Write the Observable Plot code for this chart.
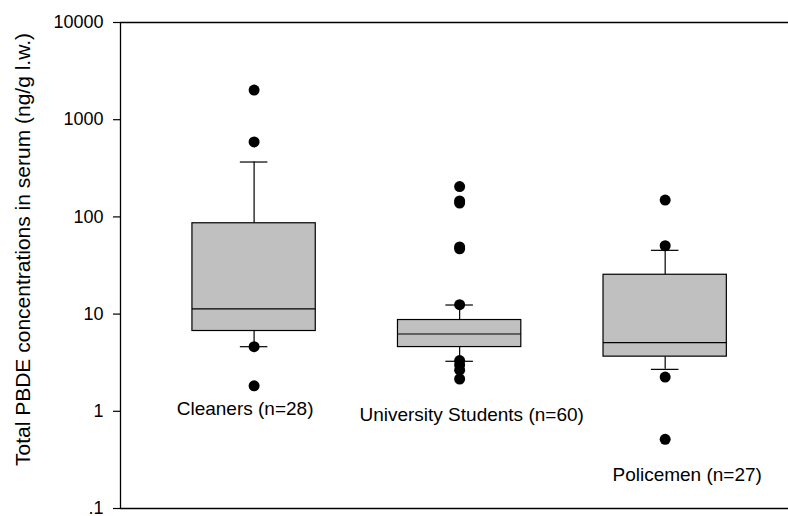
<!DOCTYPE html>
<html>
<head>
<meta charset="utf-8">
<script src="https://cdn.jsdelivr.net/npm/d3@7"></script>
<script src="https://cdn.jsdelivr.net/npm/@observablehq/plot@0.6"></script>
<style>
  html, body { margin: 0; padding: 0; background: #fff; }
  #chart { width: 788px; height: 516px; }
</style>
</head>
<body>
<div id="chart"></div>
<script>
// ---- data ----
const categories = ["Cleaners (n=28)", "University Students (n=60)", "Policemen (n=27)"];
const q1 = [6.7, 4.58, 3.65];
const medians = [11.3, 6.24, 5.08];
const q3 = [86, 8.69, 25.4];
const whiskerLow = [4.62, 3.27, 2.7];
const whiskerHigh = [367, 12.4, 45.3];
const outliers = [
  [2020, 590, 4.62, 1.83],
  [205, 146, 139, 49, 47, 12.5, 3.33, 3.0, 2.65, 2.15],
  [149, 50.5, 2.25, 0.515]
];
const yTicks = [0.1, 1, 10, 100, 1000, 10000];
const yTickLabels = [".1", "1", "10", "100", "1000", "10000"];
const yTitle = "Total PBDE concentrations in serum (ng/g l.w.)";

// ---- layout helpers ----
const labelLevel = [1.07, 0.916, 0.221];
const labelDx = [-9, 12, 22];
const font = "Liberation Sans, Arial, Helvetica, sans-serif";

const boxes = categories.map((c, i) => ({
  pos: i + 1, name: c, q1: q1[i], med: medians[i], q3: q3[i],
  lo: whiskerLow[i], hi: whiskerHigh[i], ly: labelLevel[i], dx: labelDx[i]
}));
const points = outliers.flatMap((arr, i) => arr.map(v => ({pos: i + 1, v})));
const hw = 0.30, cw = 0.067;

const chart = Plot.plot({
  width: 788,
  height: 516,
  marginLeft: 120,
  marginRight: 0,
  marginTop: 22,
  marginBottom: 8,
  style: {fontFamily: font, fontSize: "18px", color: "#000", background: "#fff"},
  x: {type: "linear", domain: [0.35, 3.6], axis: null},
  y: {type: "log", domain: [0.1, 10000], axis: null},
  marks: [
    // frame lines (top, bottom, left)
    Plot.ruleY([0.1, 10000], {stroke: "#000", strokeWidth: 1.3}),
    Plot.ruleX([0.35], {stroke: "#000", strokeWidth: 1.3}),
    // y axis
    Plot.axisY({ticks: yTicks, tickFormat: d => yTickLabels[yTicks.indexOf(d)], tickSize: 7, tickPadding: 10, fontSize: 18, fill: "#000", stroke: "#000", strokeWidth: 1.2, label: null}),
    // whiskers
    Plot.ruleX(boxes, {x: "pos", y1: "q3", y2: "hi", stroke: "#000", strokeWidth: 1.2}),
    Plot.ruleX(boxes, {x: "pos", y1: "lo", y2: "q1", stroke: "#000", strokeWidth: 1.2}),
    Plot.ruleY(boxes, {y: "hi", x1: d => d.pos - cw, x2: d => d.pos + cw, stroke: "#000", strokeWidth: 1.2}),
    Plot.ruleY(boxes, {y: "lo", x1: d => d.pos - cw, x2: d => d.pos + cw, stroke: "#000", strokeWidth: 1.2}),
    // boxes
    Plot.rect(boxes, {x1: d => d.pos - hw, x2: d => d.pos + hw, y1: "q1", y2: "q3", fill: "#c0c0c0", stroke: "#000", strokeWidth: 1.2}),
    Plot.ruleY(boxes, {y: "med", x1: d => d.pos - hw, x2: d => d.pos + hw, stroke: "#000", strokeWidth: 1.2}),
    // outliers
    Plot.dot(points, {x: "pos", y: "v", r: 5.5, fill: "#000", stroke: "none"}),
    // category labels
    ...boxes.map(b => Plot.text([b], {x: "pos", y: "ly", text: "name", dx: b.dx, fontSize: 19, fill: "#000"})),
    // y title
    Plot.text([yTitle], {frameAnchor: "left", textAnchor: "middle", lineAnchor: "middle", text: d => d, rotate: -90, dx: -97.5, dy: -16, fontSize: 21, fill: "#000"})
  ]
});
document.getElementById("chart").appendChild(chart);
</script>
</body>
</html>
